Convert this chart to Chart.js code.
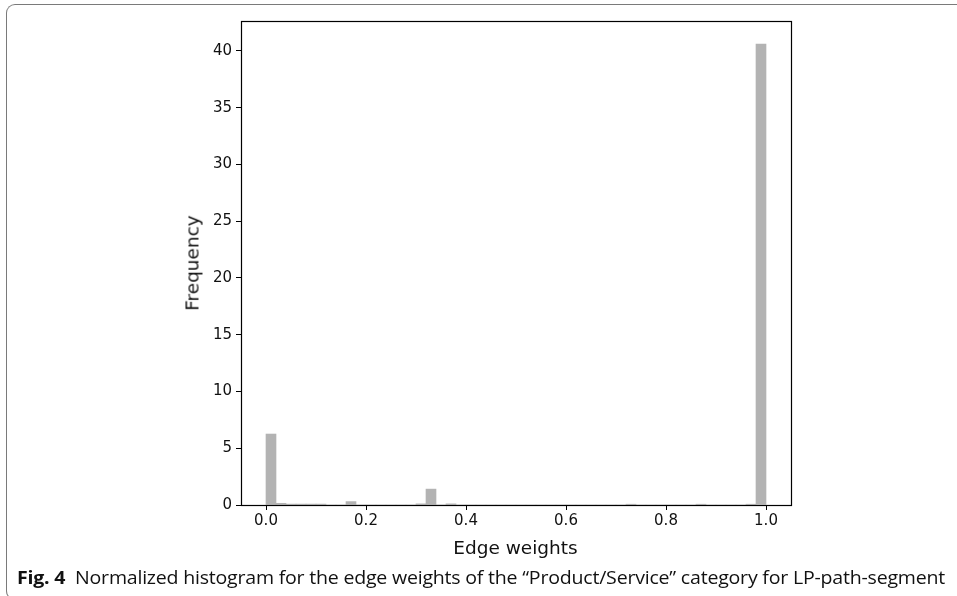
<!DOCTYPE html>
<html>
<head>
<meta charset="utf-8">
<script src="https://cdn.jsdelivr.net/npm/chart.js@4.4.1/dist/chart.umd.min.js"></script>
<style>
  html, body { margin: 0; padding: 0; background: #fff; }
  #wrap { position: relative; width: 957px; height: 596px; overflow: hidden; }
  #frame { position: absolute; left: 6px; top: 4px; width: 1000px; height: 596px;
           border: 1.5px solid #7a7a7a; border-right: none; border-radius: 9px 0 0 9px; box-sizing: border-box; }
  canvas { position: absolute; left: 0; top: 0; }
  .lbl { position: absolute; font-family: "DejaVu Sans", sans-serif; color: #111; white-space: nowrap; }
  #xlab { font-size: 18.5px; left: 515.5px; top: 547px; transform: translate(-50%, -50%); }
  #ylab { font-size: 18.5px; left: 192px; top: 263px; transform: translate(-50%, -50%) rotate(-90deg); }
  #cap { position: absolute; left: 17px; top: 564px; font-family: "Open Sans", sans-serif; font-size: 18.5px;
         color: #111; white-space: nowrap; transform-origin: 0 0; letter-spacing: -0.2px; }
  #cap b { font-weight: 700; }
</style>
</head>
<body>
<div id="wrap">
  <div id="frame"></div>
  <canvas id="c" width="957" height="596"></canvas>
  <div class="lbl" id="xlab">Edge weights</div>
  <div class="lbl" id="ylab">Frequency</div>
  <div id="cap"><b>Fig. 4</b>&nbsp; Normalized histogram for the edge weights of the “Product/Service” category for LP-path-segment</div>
</div>
<script>
// Histogram bin centres (50 bins of width 0.02 on [0,1])
const binCenters = [
  0.01,0.03,0.05,0.07,0.09,0.11,0.13,0.15,0.17,0.19,
  0.21,0.23,0.25,0.27,0.29,0.31,0.33,0.35,0.37,0.39,
  0.41,0.43,0.45,0.47,0.49,0.51,0.53,0.55,0.57,0.59,
  0.61,0.63,0.65,0.67,0.69,0.71,0.73,0.75,0.77,0.79,
  0.81,0.83,0.85,0.87,0.89,0.91,0.93,0.95,0.97,0.99
];
// Normalized frequency (density) per bin
const frequency = [
  6.25,0.15,0.08,0.08,0.08,0.08,0,0,0.3,0,
  0,0,0,0,0,0.1,1.4,0,0.1,0,
  0,0,0,0,0,0,0,0,0,0,
  0,0,0,0,0,0,0.07,0,0,0,
  0,0,0,0.07,0,0,0,0,0.07,40.6
];
const xTicks = [0.0, 0.2, 0.4, 0.6, 0.8, 1.0];
const yTicks = [0, 5, 10, 15, 20, 25, 30, 35, 40];

const frameSpines = {
  id: 'spines',
  afterDraw(chart) {
    const a = chart.chartArea, ctx = chart.ctx;
    ctx.save();
    ctx.strokeStyle = '#000';
    ctx.lineWidth = 1.2;
    ctx.strokeRect(Math.round(a.left) + 0.5, Math.round(a.top) + 0.5,
                   Math.round(a.right - a.left), Math.round(a.bottom - a.top));
    ctx.restore();
  }
};

new Chart(document.getElementById('c'), {
  type: 'bar',
  data: {
    datasets: [{
      data: binCenters.map((x, i) => ({ x: x, y: frequency[i] })),
      backgroundColor: '#b3b3b3',
      borderWidth: 0,
      barPercentage: 1.0,
      categoryPercentage: 1.0,
      grouped: false
    }]
  },
  options: {
    responsive: false,
    animation: false,
    events: [],
    layout: { padding: { top: 21, right: 166, left: 0, bottom: 0 } },
    plugins: { legend: { display: false }, tooltip: { enabled: false } },
    scales: {
      x: {
        type: 'linear',
        min: -0.05, max: 1.05,
        offset: false,
        afterBuildTicks: s => { s.ticks = xTicks.map(v => ({ value: v })); },
        afterFit: s => { s.height = 91; },
        grid: { offset: false, drawOnChartArea: false, tickLength: 5, tickColor: '#000', tickWidth: 1 },
        border: { display: true, color: '#000', width: 1 },
        ticks: {
          autoSkip: false, maxRotation: 0, padding: 2,
          color: '#111', font: { family: 'DejaVu Sans', size: 15 },
          callback: v => Number(v).toFixed(1)
        }
      },
      y: {
        min: 0, max: 42.63,
        afterBuildTicks: s => { s.ticks = yTicks.map(v => ({ value: v })); },
        afterFit: s => { s.width = 241; },
        grid: { drawOnChartArea: false, tickLength: 5, tickColor: '#000', tickWidth: 1 },
        border: { display: true, color: '#000', width: 1 },
        ticks: {
          autoSkip: false, padding: 4,
          color: '#111', font: { family: 'DejaVu Sans', size: 15 },
          callback: v => String(v)
        }
      }
    }
  },
  plugins: [frameSpines]
});

// fit caption to the measured width of the reference
const cap = document.getElementById('cap');
const w = cap.getBoundingClientRect().width;
cap.style.transform = 'scaleX(' + (928 / w) + ')';
</script>
</body>
</html>
